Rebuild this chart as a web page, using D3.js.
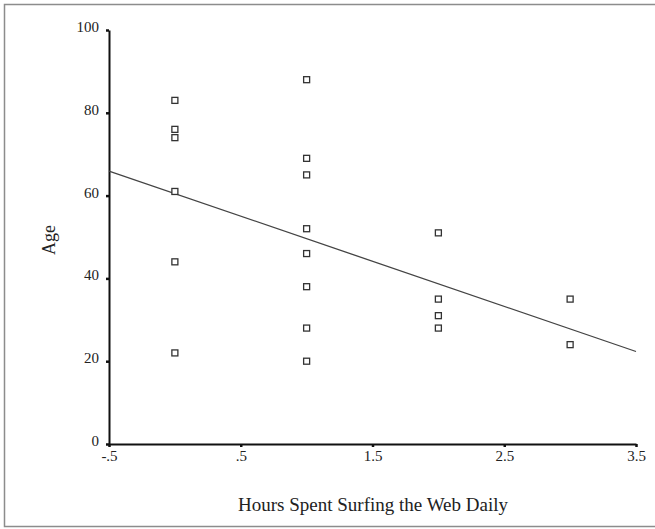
<!DOCTYPE html>
<html>
<head>
<meta charset="utf-8">
<script src="https://cdn.jsdelivr.net/npm/d3@7"></script>
<style>
  body { margin: 0; background: #fff; }
  svg { display: block; font-family: "Liberation Serif", "DejaVu Serif", serif; }
</style>
</head>
<body>
<svg id="chart" width="655" height="529"></svg>
<script>
// hours per day for each respondent, and their age
var hours = [0, 0, 0, 0, 0, 0,
             1, 1, 1, 1, 1, 1, 1, 1,
             2, 2, 2, 2,
             3, 3];
var ages  = [83, 76, 74, 61, 44, 22,
             88, 69, 65, 52, 46, 38, 28, 20,
             51, 35, 31, 28,
             35, 24];
var xTicks = [-0.5, 0.5, 1.5, 2.5, 3.5];
var yTicks = [0, 20, 40, 60, 80, 100];

var svg = d3.select("#chart");

// grey frame round the whole chart
svg.append("rect")
    .attr("x", 4.5)
    .attr("y", 4.5)
    .attr("width", 660)
    .attr("height", 522)
    .attr("fill", "none")
    .attr("stroke", "#8c8c8c")
    .attr("stroke-width", 1.5);

var x = d3.scaleLinear().domain([-0.5, 3.5]).range([109, 636]);
var y = d3.scaleLinear().domain([0, 100]).range([444, 30]);

// -.5 , .5 , 1.5 like SPSS does
var fmt = function(d) { return String(d).replace(/^(-?)0\./, "$1."); };

var xAxis = svg.append("g")
    .attr("transform", "translate(0," + y(0) + ")")
    .call(d3.axisBottom(x).tickValues(xTicks).tickFormat(fmt).tickSize(3).tickSizeOuter(0).tickPadding(3));

var yAxis = svg.append("g")
    .attr("transform", "translate(" + x(-0.5) + ",0)")
    .call(d3.axisLeft(y).tickValues(yTicks).tickSize(3).tickSizeOuter(0).tickPadding(7));

[xAxis, yAxis].forEach(function(a) {
    a.select(".domain").attr("stroke", "#111").attr("stroke-width", 2);
    a.selectAll(".tick line").attr("stroke", "#111").attr("stroke-width", 2.5);
    a.selectAll(".tick text")
        .attr("fill", "#222")
        .style("font-size", "15px")
        .style("font-family", "Liberation Serif, serif");
});
yAxis.selectAll(".tick text").attr("dy", "0.1em");

// regression line, least squares from the data
var mx = d3.mean(hours), my = d3.mean(ages);
var sxy = d3.sum(hours, function(h, i) { return (h - mx) * (ages[i] - my); });
var sxx = d3.sum(hours, function(h) { return (h - mx) * (h - mx); });
var slope = sxy / sxx;
var intercept = my - slope * mx;
var fitLine = d3.line()
    .x(function(d) { return x(d); })
    .y(function(d) { return y(intercept + slope * d); });

svg.append("path")
    .datum(x.domain())
    .attr("d", fitLine)
    .attr("fill", "none")
    .attr("stroke", "#444")
    .attr("stroke-width", 1.3);

// hollow square markers
svg.selectAll(".pt")
    .data(ages)
    .enter().append("rect")
    .attr("class", "pt")
    .attr("x", function(d, i) { return x(hours[i]) - 3; })
    .attr("y", function(d) { return y(d) - 3; })
    .attr("width", 6)
    .attr("height", 6)
    .attr("fill", "#fff")
    .attr("stroke", "#333")
    .attr("stroke-width", 1.3);

// axis titles
svg.append("text")
    .attr("x", 373)
    .attr("y", 511)
    .attr("text-anchor", "middle")
    .attr("fill", "#222")
    .style("font-size", "19px")
    .text("Hours Spent Surfing the Web Daily");

svg.append("text")
    .attr("transform", "translate(55,240) rotate(-90)")
    .attr("text-anchor", "middle")
    .attr("fill", "#222")
    .style("font-size", "18px")
    .text("Age");
</script>
</body>
</html>
